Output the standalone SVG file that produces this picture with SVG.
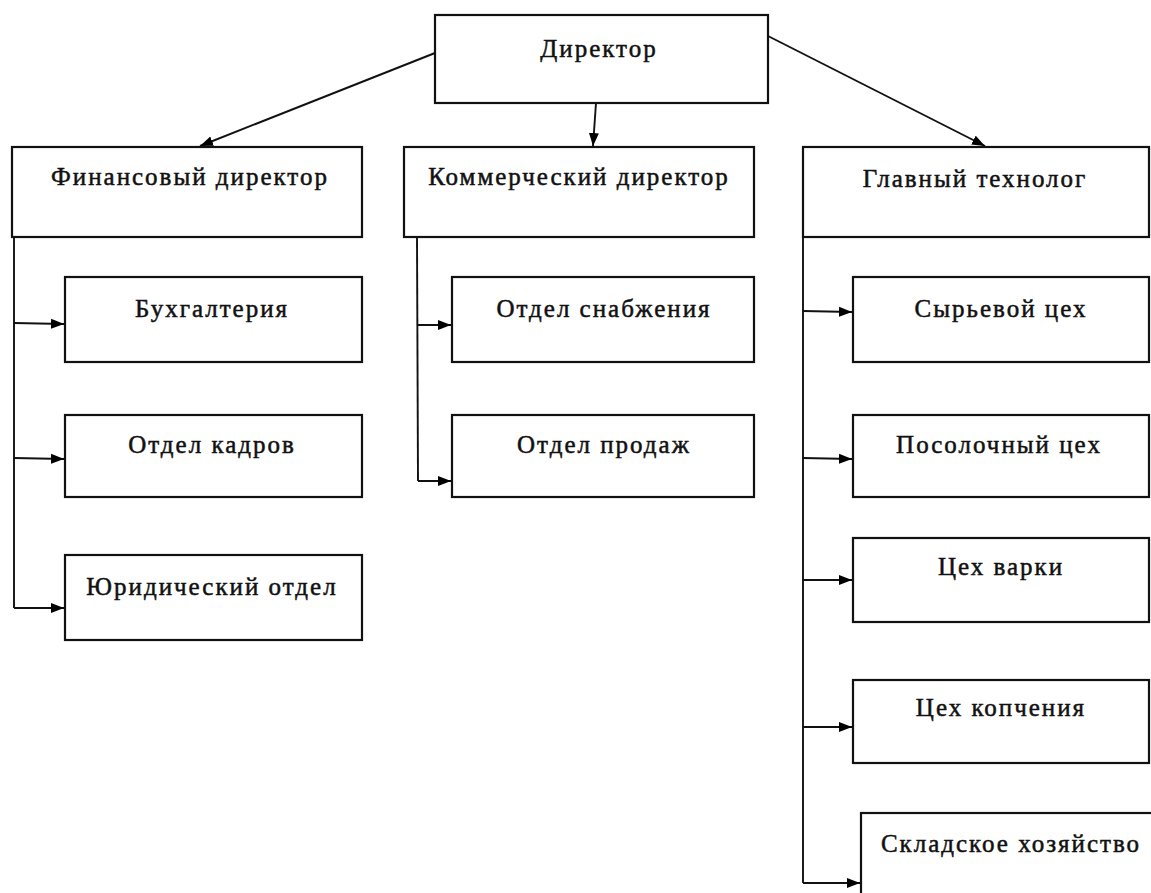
<svg xmlns="http://www.w3.org/2000/svg" width="1151" height="893" viewBox="0 0 1151 893">
<defs>
<marker id="ah" viewBox="0 0 13 11" refX="13" refY="5.5" markerWidth="13" markerHeight="11" markerUnits="userSpaceOnUse" orient="auto">
<path d="M0,0.5 L13,5.5 L0,10.5 Z" fill="#000"/>
</marker>
</defs>
<style>
.box{fill:#fff;stroke:#111;stroke-width:2.2}
.lbl{font-family:"Liberation Serif","Times New Roman",serif;font-size:25px;letter-spacing:2px;fill:#111;stroke:#111;stroke-width:0.5;text-anchor:middle}
.c{fill:none;stroke:#111;stroke-width:1.9}
.a{marker-end:url(#ah)}
</style>
<rect width="1151" height="893" fill="#fff"/>
<g id="connectors">
<line class="c a" x1="435" y1="53" x2="200" y2="146"/>
<line class="c a" x1="596" y1="103" x2="593" y2="146"/>
<line class="c a" x1="768" y1="36" x2="985" y2="146"/>
<polyline class="c" points="14,237 14,608"/>
<line class="c a" x1="14" y1="323" x2="64" y2="324"/>
<line class="c a" x1="14" y1="458" x2="64" y2="459"/>
<line class="c a" x1="14" y1="608" x2="64" y2="608"/>
<polyline class="c" points="417,237 418,481"/>
<line class="c a" x1="418" y1="325" x2="451" y2="325"/>
<line class="c a" x1="418" y1="481" x2="451" y2="481"/>
<polyline class="c" points="803,237 803,883"/>
<line class="c a" x1="803" y1="311" x2="852" y2="312"/>
<line class="c a" x1="803" y1="458" x2="852" y2="459"/>
<line class="c a" x1="803" y1="580" x2="852" y2="580"/>
<line class="c a" x1="803" y1="727" x2="852" y2="727"/>
<line class="c a" x1="803" y1="883" x2="860" y2="883"/>
</g>
<g id="n-director"><rect class="box" x="435" y="15" width="333" height="88"/><text class="lbl" x="599" y="57">Директор</text></g>
<g id="n-fin"><rect class="box" x="12" y="147" width="350" height="90"/><text class="lbl" x="190" y="185">Финансовый директор</text></g>
<g id="n-com"><rect class="box" x="404" y="147" width="350" height="90"/><text class="lbl" x="579" y="185">Коммерческий директор</text></g>
<g id="n-tech"><rect class="box" x="803" y="147" width="346" height="90"/><text class="lbl" x="975" y="187">Главный технолог</text></g>
<g id="n-buh"><rect class="box" x="65" y="277" width="297" height="85"/><text class="lbl" x="212" y="317">Бухгалтерия</text></g>
<g id="n-kadr"><rect class="box" x="65" y="415" width="297" height="82"/><text class="lbl" x="212" y="453">Отдел кадров</text></g>
<g id="n-jur"><rect class="box" x="65" y="555" width="297" height="85"/><text class="lbl" x="212" y="595">Юридический отдел</text></g>
<g id="n-snab"><rect class="box" x="452" y="277" width="302" height="85"/><text class="lbl" x="604" y="317">Отдел снабжения</text></g>
<g id="n-prod"><rect class="box" x="452" y="415" width="302" height="82"/><text class="lbl" x="604" y="453">Отдел продаж</text></g>
<g id="n-syr"><rect class="box" x="853" y="277" width="296" height="85"/><text class="lbl" x="1001" y="317">Сырьевой цех</text></g>
<g id="n-pos"><rect class="box" x="853" y="415" width="296" height="82"/><text class="lbl" x="999" y="453">Посолочный цех</text></g>
<g id="n-var"><rect class="box" x="853" y="538" width="296" height="84"/><text class="lbl" x="1001" y="575">Цех варки</text></g>
<g id="n-kop"><rect class="box" x="853" y="680" width="296" height="83"/><text class="lbl" x="1001" y="716">Цех копчения</text></g>
<g id="n-skl"><rect class="box" x="861" y="813" width="300" height="100"/><text class="lbl" x="1011" y="852">Складское хозяйство</text></g>
</svg>
